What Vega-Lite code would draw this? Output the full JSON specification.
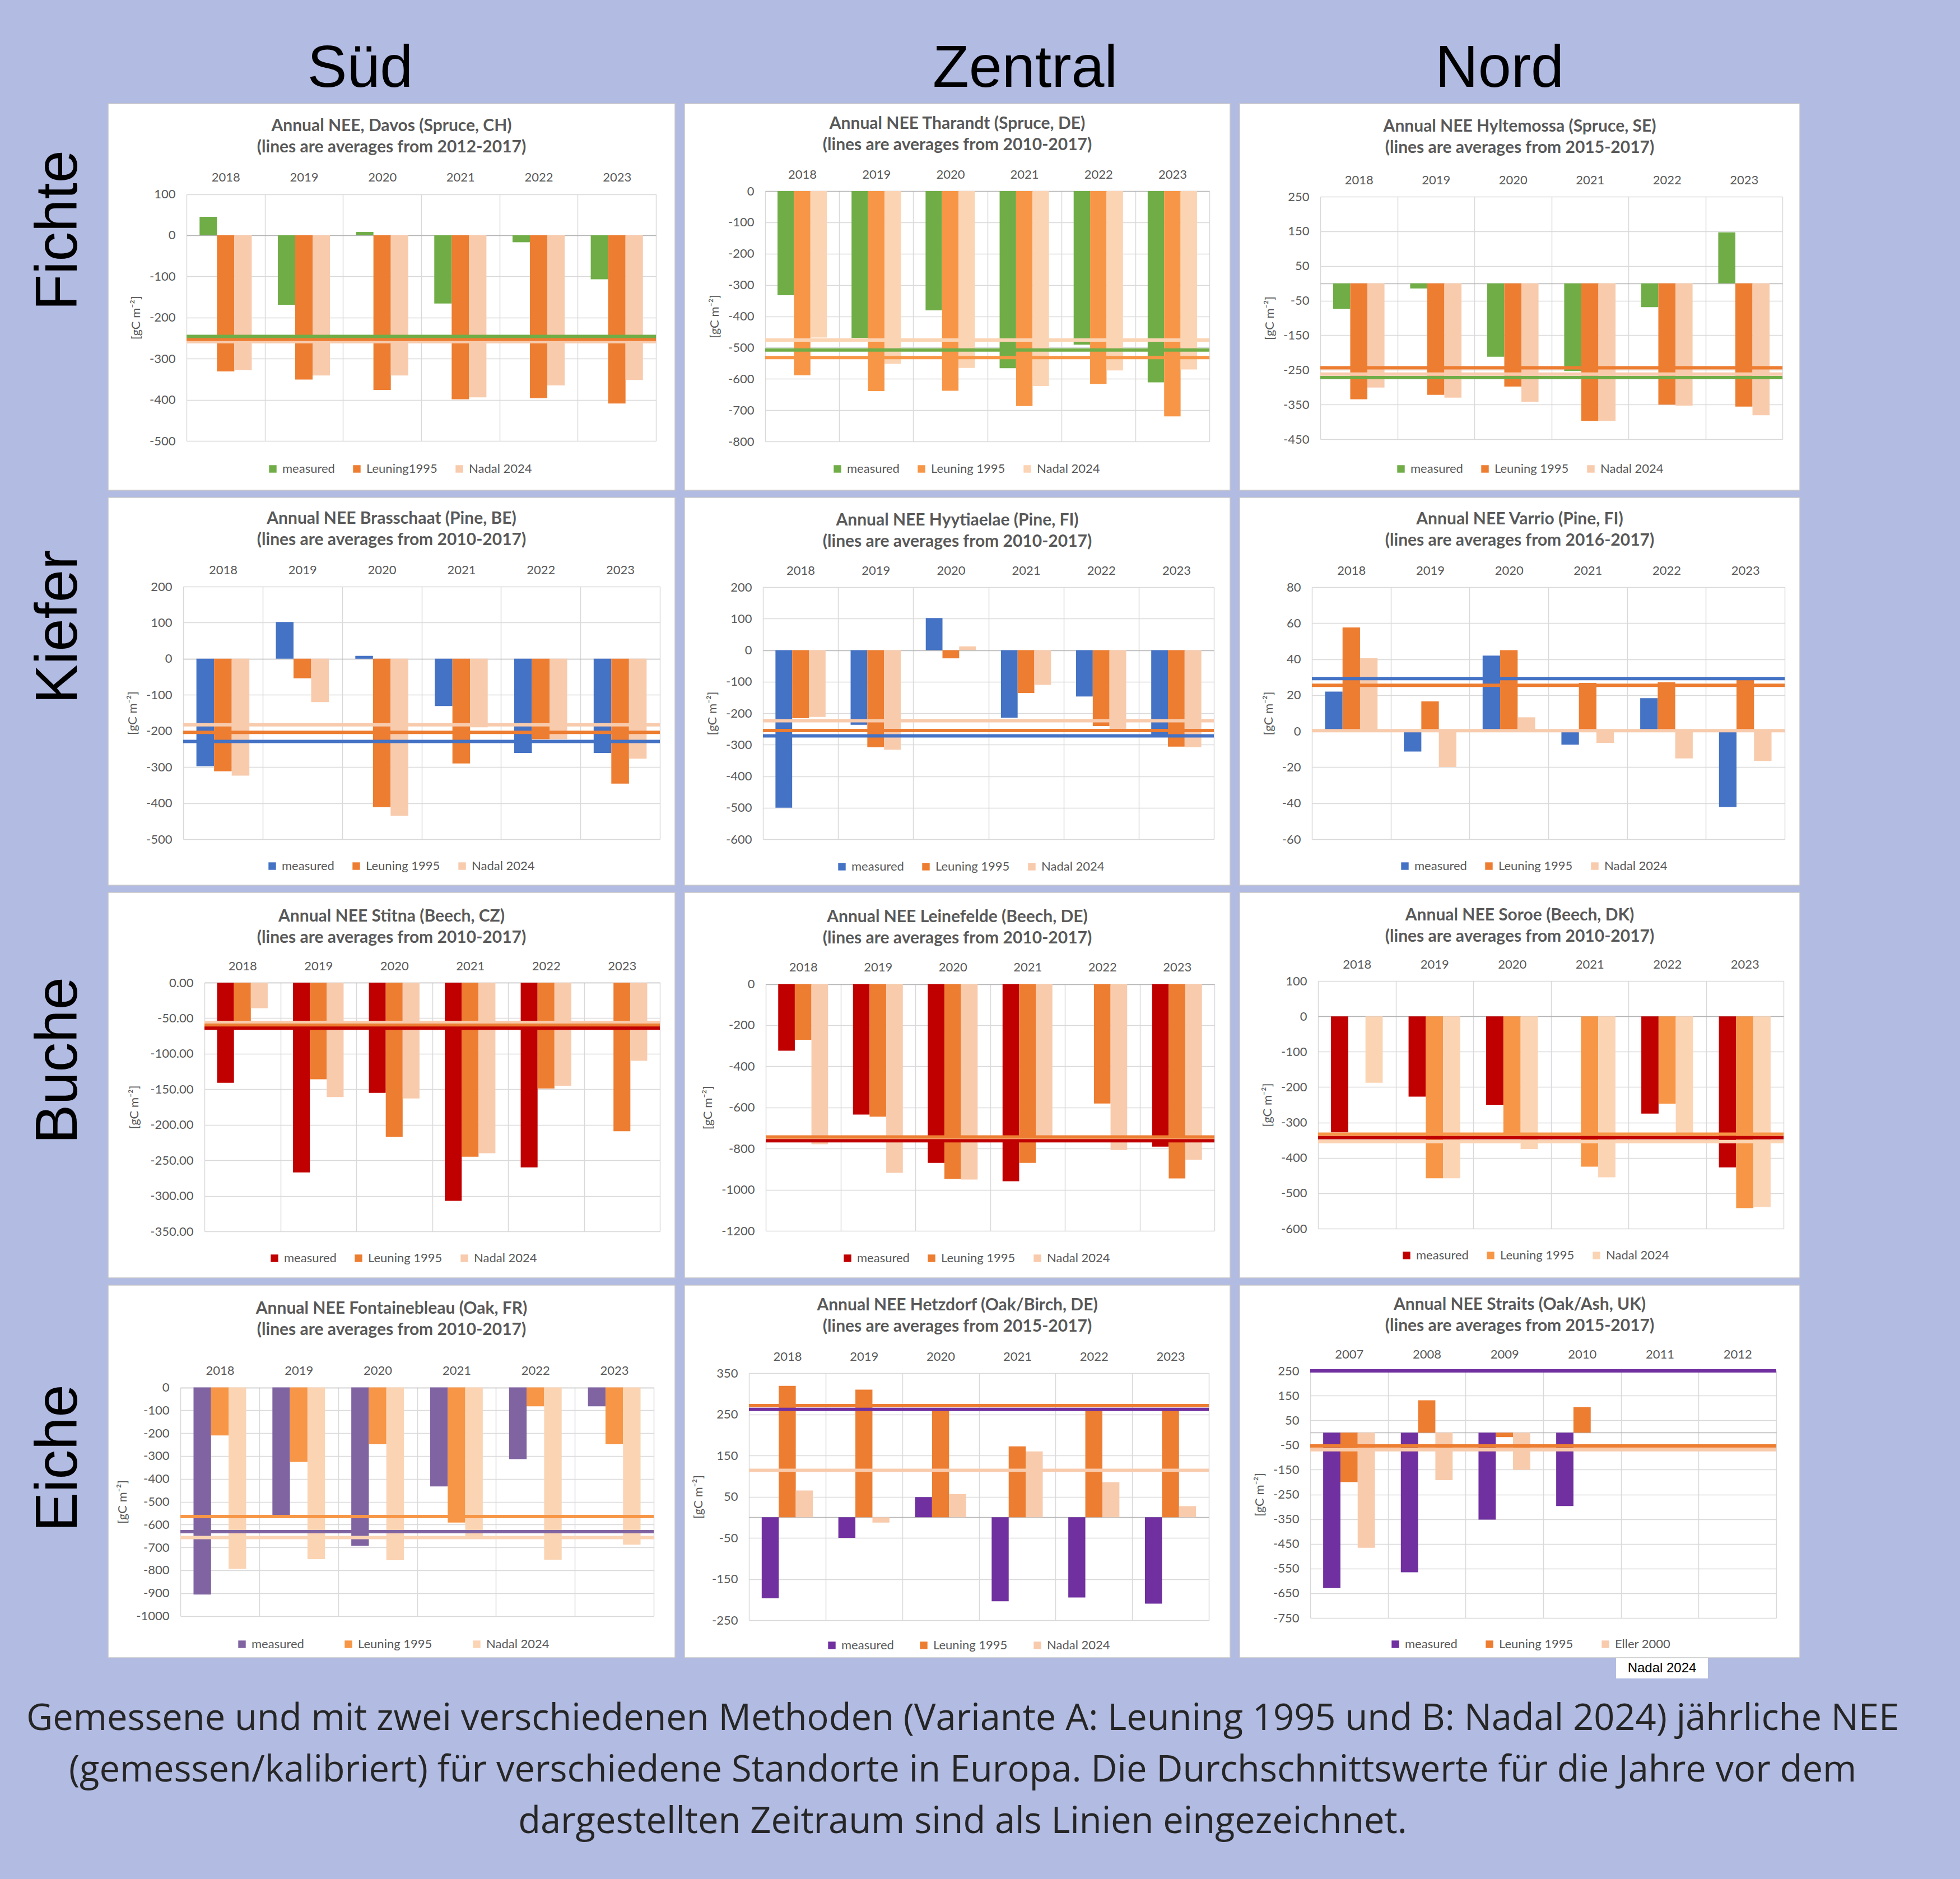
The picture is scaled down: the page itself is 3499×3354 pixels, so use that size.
{
"$schema": "https://vega.github.io/schema/vega-lite/v6.json",
"background": "#b2bbe2",
"padding": {"left": 46, "top": 70, "right": 111, "bottom": 78},
"title": {"text": ["Gemessene und mit zwei verschiedenen Methoden (Variante A: Leuning 1995 und B: Nadal 2024) jährliche NEE", "(gemessen/kalibriert) für verschiedene Standorte in Europa. Die Durchschnittswerte für die Jahre vor dem", "dargestellten Zeitraum sind als Linien eingezeichnet."], "orient": "bottom", "anchor": "middle", "font": "Open Sans", "fontSize": 65, "fontWeight": "normal", "color": "#262626", "lineHeight": 92, "offset": 41, "dx": 85},
"spacing": 11,
"resolve": {"scale": {"color": "independent", "xOffset": "independent"}, "legend": {"color": "independent"}},
"vconcat": [
{
"title": {"text": "Fichte", "orient": "left", "font": "Liberation Sans", "fontSize": 105, "fontWeight": "normal", "color": "#000000", "anchor": "middle", "offset": 33, "dx": 62, "lineHeight": 105},
"spacing": 15,
"resolve": {"scale": {"color": "independent", "xOffset": "independent"}, "legend": {"color": "independent"}},
"hconcat": [
{"title": {"text": "Süd", "font": "Liberation Sans", "fontSize": 106, "fontWeight": "normal", "color": "#000000", "anchor": "middle", "offset": 7, "dx": -56, "lineHeight": 106},
 "resolve": {"scale": {"color": "independent", "xOffset": "independent"}, "legend": {"color": "independent"}},
 "vconcat": [
{"width": 1012, "height": 690, "view": {"fill": "white", "stroke": "#c8c8c8", "strokeWidth": 1.5},
 "title": {"text": ["Annual NEE, Davos (Spruce, CH)", "(lines are averages from 2012-2017)"], "offset": -93},
 "layer": [
  {"data": {"values": [
   {"year":"2018","series":"measured","nee":45},{"year":"2018","series":"Leuning1995","nee":-331},{"year":"2018","series":"Nadal 2024","nee":-328},
   {"year":"2019","series":"measured","nee":-169},{"year":"2019","series":"Leuning1995","nee":-351},{"year":"2019","series":"Nadal 2024","nee":-341},
   {"year":"2020","series":"measured","nee":8},{"year":"2020","series":"Leuning1995","nee":-376},{"year":"2020","series":"Nadal 2024","nee":-341},
   {"year":"2021","series":"measured","nee":-166},{"year":"2021","series":"Leuning1995","nee":-399},{"year":"2021","series":"Nadal 2024","nee":-394},
   {"year":"2022","series":"measured","nee":-17},{"year":"2022","series":"Leuning1995","nee":-396},{"year":"2022","series":"Nadal 2024","nee":-365},
   {"year":"2023","series":"measured","nee":-107},{"year":"2023","series":"Leuning1995","nee":-409},{"year":"2023","series":"Nadal 2024","nee":-352}]},
   "mark": {"type": "bar"},
   "encoding": {
    "x": {"field": "year", "type": "nominal", "scale": {"domain": ["2018","2019","2020","2021","2022","2023"], "range": [140, 978], "paddingInner": 0, "paddingOuter": 0}, "axis": {"orient": "top", "offset": -161.5, "title": null, "labelAngle": 0, "labelPadding": 18, "tickBand": "extent", "grid": true}},
    "xOffset": {"field": "series", "type": "nominal", "scale": {"domain": ["measured","Leuning1995","Nadal 2024"], "paddingInner": 0, "paddingOuter": 0.75}},
    "y": {"field": "nee", "type": "quantitative", "scale": {"domain": [-500, 100], "range": [602, 161.5], "nice": false, "zero": false}, "axis": {"offset": -140, "values": [100,0,-100,-200,-300,-400,-500], "format": "d", "title": "[gC m⁻²]", "labelPadding": 20, "titlePadding": 12, "gridColor": {"condition": {"test": "datum.value === 0", "value": "#b5b5b5"}, "value": "#d9d9d9"}}},
    "color": {"field": "series", "type": "nominal", "scale": {"domain": ["measured","Leuning1995","Nadal 2024"], "range": ["#70ad47","#ed7d31","#f8cbad"]}, "legend": {"title": null, "orient": "none", "legendX": 283, "legendY": 641, "direction": "horizontal", "columnPadding": 28}}
   }},
  {"data": {"values": [{"series":"Nadal 2024","avg":-259},{"series":"Leuning1995","avg":-253},{"series":"measured","avg":-246}]},
   "mark": {"type": "rule", "strokeWidth": 6},
   "encoding": {"x": {"datum": "2018", "bandPosition": 0}, "x2": {"datum": "2023", "bandPosition": 1}, "y": {"field": "avg", "type": "quantitative"}, "color": {"field": "series", "type": "nominal", "legend": null}}}
 ]}
]},
{"title": {"text": "Zentral", "font": "Liberation Sans", "fontSize": 106, "fontWeight": "normal", "color": "#000000", "anchor": "middle", "offset": 7, "dx": 121, "lineHeight": 106},
 "resolve": {"scale": {"color": "independent", "xOffset": "independent"}, "legend": {"color": "independent"}},
 "vconcat": [
{"width": 974, "height": 690, "view": {"fill": "white", "stroke": "#c8c8c8", "strokeWidth": 1.5},
 "title": {"text": ["Annual NEE Tharandt (Spruce, DE)", "(lines are averages from 2010-2017)"], "offset": -89},
 "layer": [
  {"data": {"values": [
   {"year":"2018","series":"measured","nee":-333},{"year":"2018","series":"Leuning 1995","nee":-589},{"year":"2018","series":"Nadal 2024","nee":-468},
   {"year":"2019","series":"measured","nee":-469},{"year":"2019","series":"Leuning 1995","nee":-639},{"year":"2019","series":"Nadal 2024","nee":-552},
   {"year":"2020","series":"measured","nee":-381},{"year":"2020","series":"Leuning 1995","nee":-638},{"year":"2020","series":"Nadal 2024","nee":-565},
   {"year":"2021","series":"measured","nee":-566},{"year":"2021","series":"Leuning 1995","nee":-687},{"year":"2021","series":"Nadal 2024","nee":-623},
   {"year":"2022","series":"measured","nee":-491},{"year":"2022","series":"Leuning 1995","nee":-616},{"year":"2022","series":"Nadal 2024","nee":-573},
   {"year":"2023","series":"measured","nee":-611},{"year":"2023","series":"Leuning 1995","nee":-720},{"year":"2023","series":"Nadal 2024","nee":-570}]},
   "mark": {"type": "bar"},
   "encoding": {
    "x": {"field": "year", "type": "nominal", "scale": {"domain": ["2018","2019","2020","2021","2022","2023"], "range": [144, 937], "paddingInner": 0, "paddingOuter": 0}, "axis": {"orient": "top", "offset": -156, "title": null, "labelAngle": 0, "labelPadding": 18, "tickBand": "extent", "grid": true}},
    "xOffset": {"field": "series", "type": "nominal", "scale": {"domain": ["measured","Leuning 1995","Nadal 2024"], "paddingInner": 0, "paddingOuter": 0.75}},
    "y": {"field": "nee", "type": "quantitative", "scale": {"domain": [-800, 0], "range": [603, 156], "nice": false, "zero": false}, "axis": {"offset": -144, "values": [0,-100,-200,-300,-400,-500,-600,-700,-800], "format": "d", "title": "[gC m⁻²]", "labelPadding": 20, "titlePadding": 12, "gridColor": {"condition": {"test": "datum.value === 0", "value": "#b5b5b5"}, "value": "#d9d9d9"}}},
    "color": {"field": "series", "type": "nominal", "scale": {"domain": ["measured","Leuning 1995","Nadal 2024"], "range": ["#70ad47","#f79646","#fbd4b4"]}, "legend": {"title": null, "orient": "none", "legendX": 262, "legendY": 641, "direction": "horizontal", "columnPadding": 28}}
   }},
  {"data": {"values": [{"series":"Nadal 2024","avg":-476},{"series":"Leuning 1995","avg":-532},{"series":"measured","avg":-508}]},
   "mark": {"type": "rule", "strokeWidth": 6},
   "encoding": {"x": {"datum": "2018", "bandPosition": 0}, "x2": {"datum": "2023", "bandPosition": 1}, "y": {"field": "avg", "type": "quantitative"}, "color": {"field": "series", "type": "nominal", "legend": null}}}
 ]}
]},
{"title": {"text": "Nord", "font": "Liberation Sans", "fontSize": 106, "fontWeight": "normal", "color": "#000000", "anchor": "middle", "offset": 7, "dx": -36, "lineHeight": 106},
 "resolve": {"scale": {"color": "independent", "xOffset": "independent"}, "legend": {"color": "independent"}},
 "vconcat": [
{"width": 1000, "height": 690, "view": {"fill": "white", "stroke": "#c8c8c8", "strokeWidth": 1.5},
 "title": {"text": ["Annual NEE Hyltemossa (Spruce, SE)", "(lines are averages from 2015-2017)"], "offset": -94},
 "layer": [
  {"data": {"values": [
   {"year":"2018","series":"measured","nee":-74},{"year":"2018","series":"Leuning 1995","nee":-335},{"year":"2018","series":"Nadal 2024","nee":-301},
   {"year":"2019","series":"measured","nee":-15},{"year":"2019","series":"Leuning 1995","nee":-322},{"year":"2019","series":"Nadal 2024","nee":-330},
   {"year":"2020","series":"measured","nee":-212},{"year":"2020","series":"Leuning 1995","nee":-298},{"year":"2020","series":"Nadal 2024","nee":-342},
   {"year":"2021","series":"measured","nee":-253},{"year":"2021","series":"Leuning 1995","nee":-397},{"year":"2021","series":"Nadal 2024","nee":-397},
   {"year":"2022","series":"measured","nee":-69},{"year":"2022","series":"Leuning 1995","nee":-350},{"year":"2022","series":"Nadal 2024","nee":-353},
   {"year":"2023","series":"measured","nee":147},{"year":"2023","series":"Leuning 1995","nee":-356},{"year":"2023","series":"Nadal 2024","nee":-381}]},
   "mark": {"type": "bar"},
   "encoding": {
    "x": {"field": "year", "type": "nominal", "scale": {"domain": ["2018","2019","2020","2021","2022","2023"], "range": [144, 969], "paddingInner": 0, "paddingOuter": 0}, "axis": {"orient": "top", "offset": -166, "title": null, "labelAngle": 0, "labelPadding": 18, "tickBand": "extent", "grid": true}},
    "xOffset": {"field": "series", "type": "nominal", "scale": {"domain": ["measured","Leuning 1995","Nadal 2024"], "paddingInner": 0, "paddingOuter": 0.75}},
    "y": {"field": "nee", "type": "quantitative", "scale": {"domain": [-450, 250], "range": [599, 166], "nice": false, "zero": false}, "axis": {"offset": -144, "values": [250,150,50,0,-50,-150,-250,-350,-450], "format": "d", "labelExpr": "datum.value === 0 ? '' : datum.label", "title": "[gC m⁻²]", "labelPadding": 20, "titlePadding": 12, "gridColor": {"condition": {"test": "datum.value === 0", "value": "#b5b5b5"}, "value": "#d9d9d9"}}},
    "color": {"field": "series", "type": "nominal", "scale": {"domain": ["measured","Leuning 1995","Nadal 2024"], "range": ["#70ad47","#ed7d31","#f8cbad"]}, "legend": {"title": null, "orient": "none", "legendX": 277, "legendY": 641, "direction": "horizontal", "columnPadding": 28}}
   }},
  {"data": {"values": [{"series":"Nadal 2024","avg":-262},{"series":"Leuning 1995","avg":-244},{"series":"measured","avg":-272}]},
   "mark": {"type": "rule", "strokeWidth": 6},
   "encoding": {"x": {"datum": "2018", "bandPosition": 0}, "x2": {"datum": "2023", "bandPosition": 1}, "y": {"field": "avg", "type": "quantitative"}, "color": {"field": "series", "type": "nominal", "legend": null}}}
 ]}
]}
]},
{
"title": {"text": "Kiefer", "orient": "left", "font": "Liberation Sans", "fontSize": 105, "fontWeight": "normal", "color": "#000000", "anchor": "middle", "offset": 33, "dx": 115, "lineHeight": 105},
"spacing": 15,
"resolve": {"scale": {"color": "independent", "xOffset": "independent"}, "legend": {"color": "independent"}},
"hconcat": [
{"width": 1012, "height": 692, "view": {"fill": "white", "stroke": "#c8c8c8", "strokeWidth": 1.5},
 "title": {"text": ["Annual NEE Brasschaat (Pine, BE)", "(lines are averages from 2010-2017)"], "offset": -91},
 "layer": [
  {"data": {"values": [
   {"year":"2018","series":"measured","nee":-298},{"year":"2018","series":"Leuning 1995","nee":-312},{"year":"2018","series":"Nadal 2024","nee":-324},
   {"year":"2019","series":"measured","nee":102},{"year":"2019","series":"Leuning 1995","nee":-54},{"year":"2019","series":"Nadal 2024","nee":-120},
   {"year":"2020","series":"measured","nee":8},{"year":"2020","series":"Leuning 1995","nee":-411},{"year":"2020","series":"Nadal 2024","nee":-435},
   {"year":"2021","series":"measured","nee":-131},{"year":"2021","series":"Leuning 1995","nee":-290},{"year":"2021","series":"Nadal 2024","nee":-190},
   {"year":"2022","series":"measured","nee":-261},{"year":"2022","series":"Leuning 1995","nee":-223},{"year":"2022","series":"Nadal 2024","nee":-223},
   {"year":"2023","series":"measured","nee":-261},{"year":"2023","series":"Leuning 1995","nee":-346},{"year":"2023","series":"Nadal 2024","nee":-277}]},
   "mark": {"type": "bar"},
   "encoding": {
    "x": {"field": "year", "type": "nominal", "scale": {"domain": ["2018","2019","2020","2021","2022","2023"], "range": [134, 985], "paddingInner": 0, "paddingOuter": 0}, "axis": {"orient": "top", "offset": -159, "title": null, "labelAngle": 0, "labelPadding": 18, "tickBand": "extent", "grid": true}},
    "xOffset": {"field": "series", "type": "nominal", "scale": {"domain": ["measured","Leuning 1995","Nadal 2024"], "paddingInner": 0, "paddingOuter": 0.75}},
    "y": {"field": "nee", "type": "quantitative", "scale": {"domain": [-500, 200], "range": [610, 159], "nice": false, "zero": false}, "axis": {"offset": -134, "values": [200,100,0,-100,-200,-300,-400,-500], "format": "d", "title": "[gC m⁻²]", "labelPadding": 20, "titlePadding": 12, "gridColor": {"condition": {"test": "datum.value === 0", "value": "#b5b5b5"}, "value": "#d9d9d9"}}},
    "color": {"field": "series", "type": "nominal", "scale": {"domain": ["measured","Leuning 1995","Nadal 2024"], "range": ["#4472c4","#ed7d31","#f8cbad"]}, "legend": {"title": null, "orient": "none", "legendX": 282, "legendY": 647, "direction": "horizontal", "columnPadding": 28}}
   }},
  {"data": {"values": [{"series":"Nadal 2024","avg":-183},{"series":"Leuning 1995","avg":-204},{"series":"measured","avg":-229}]},
   "mark": {"type": "rule", "strokeWidth": 6},
   "encoding": {"x": {"datum": "2018", "bandPosition": 0}, "x2": {"datum": "2023", "bandPosition": 1}, "y": {"field": "avg", "type": "quantitative"}, "color": {"field": "series", "type": "nominal", "legend": null}}}
 ]},
{"width": 974, "height": 692, "view": {"fill": "white", "stroke": "#c8c8c8", "strokeWidth": 1.5},
 "title": {"text": ["Annual NEE Hyytiaelae (Pine, FI)", "(lines are averages from 2010-2017)"], "offset": -94},
 "layer": [
  {"data": {"values": [
   {"year":"2018","series":"measured","nee":-500},{"year":"2018","series":"Leuning 1995","nee":-216},{"year":"2018","series":"Nadal 2024","nee":-212},
   {"year":"2019","series":"measured","nee":-237},{"year":"2019","series":"Leuning 1995","nee":-308},{"year":"2019","series":"Nadal 2024","nee":-316},
   {"year":"2020","series":"measured","nee":102},{"year":"2020","series":"Leuning 1995","nee":-26},{"year":"2020","series":"Nadal 2024","nee":12},
   {"year":"2021","series":"measured","nee":-214},{"year":"2021","series":"Leuning 1995","nee":-136},{"year":"2021","series":"Nadal 2024","nee":-110},
   {"year":"2022","series":"measured","nee":-147},{"year":"2022","series":"Leuning 1995","nee":-241},{"year":"2022","series":"Nadal 2024","nee":-259},
   {"year":"2023","series":"measured","nee":-275},{"year":"2023","series":"Leuning 1995","nee":-306},{"year":"2023","series":"Nadal 2024","nee":-308}]},
   "mark": {"type": "bar"},
   "encoding": {
    "x": {"field": "year", "type": "nominal", "scale": {"domain": ["2018","2019","2020","2021","2022","2023"], "range": [140, 945], "paddingInner": 0, "paddingOuter": 0}, "axis": {"orient": "top", "offset": -160, "title": null, "labelAngle": 0, "labelPadding": 18, "tickBand": "extent", "grid": true}},
    "xOffset": {"field": "series", "type": "nominal", "scale": {"domain": ["measured","Leuning 1995","Nadal 2024"], "paddingInner": 0, "paddingOuter": 0.75}},
    "y": {"field": "nee", "type": "quantitative", "scale": {"domain": [-600, 200], "range": [610, 160], "nice": false, "zero": false}, "axis": {"offset": -140, "values": [200,100,0,-100,-200,-300,-400,-500,-600], "format": "d", "title": "[gC m⁻²]", "labelPadding": 20, "titlePadding": 12, "gridColor": {"condition": {"test": "datum.value === 0", "value": "#b5b5b5"}, "value": "#d9d9d9"}}},
    "color": {"field": "series", "type": "nominal", "scale": {"domain": ["measured","Leuning 1995","Nadal 2024"], "range": ["#4472c4","#ed7d31","#f8cbad"]}, "legend": {"title": null, "orient": "none", "legendX": 270, "legendY": 648, "direction": "horizontal", "columnPadding": 28}}
   }},
  {"data": {"values": [{"series":"Nadal 2024","avg":-224},{"series":"Leuning 1995","avg":-255},{"series":"measured","avg":-272}]},
   "mark": {"type": "rule", "strokeWidth": 6},
   "encoding": {"x": {"datum": "2018", "bandPosition": 0}, "x2": {"datum": "2023", "bandPosition": 1}, "y": {"field": "avg", "type": "quantitative"}, "color": {"field": "series", "type": "nominal", "legend": null}}}
 ]},
{"width": 1000, "height": 692, "view": {"fill": "white", "stroke": "#c8c8c8", "strokeWidth": 1.5},
 "title": {"text": ["Annual NEE Varrio (Pine, FI)", "(lines are averages from 2016-2017)"], "offset": -92},
 "layer": [
  {"data": {"values": [
   {"year":"2018","series":"measured","nee":22},{"year":"2018","series":"Leuning 1995","nee":57.6},{"year":"2018","series":"Nadal 2024","nee":40.5},
   {"year":"2019","series":"measured","nee":-11.3},{"year":"2019","series":"Leuning 1995","nee":16.5},{"year":"2019","series":"Nadal 2024","nee":-19.9},
   {"year":"2020","series":"measured","nee":42},{"year":"2020","series":"Leuning 1995","nee":45},{"year":"2020","series":"Nadal 2024","nee":7.7},
   {"year":"2021","series":"measured","nee":-7.5},{"year":"2021","series":"Leuning 1995","nee":26.8},{"year":"2021","series":"Nadal 2024","nee":-6.5},
   {"year":"2022","series":"measured","nee":18.3},{"year":"2022","series":"Leuning 1995","nee":27.2},{"year":"2022","series":"Nadal 2024","nee":-15.1},
   {"year":"2023","series":"measured","nee":-42.1},{"year":"2023","series":"Leuning 1995","nee":29.2},{"year":"2023","series":"Nadal 2024","nee":-16.5}]},
   "mark": {"type": "bar"},
   "encoding": {
    "x": {"field": "year", "type": "nominal", "scale": {"domain": ["2018","2019","2020","2021","2022","2023"], "range": [129, 973], "paddingInner": 0, "paddingOuter": 0}, "axis": {"orient": "top", "offset": -160, "title": null, "labelAngle": 0, "labelPadding": 18, "tickBand": "extent", "grid": true}},
    "xOffset": {"field": "series", "type": "nominal", "scale": {"domain": ["measured","Leuning 1995","Nadal 2024"], "paddingInner": 0, "paddingOuter": 0.75}},
    "y": {"field": "nee", "type": "quantitative", "scale": {"domain": [-60, 80], "range": [610, 160], "nice": false, "zero": false}, "axis": {"offset": -129, "values": [80,60,40,20,0,-20,-40,-60], "format": "d", "title": "[gC m⁻²]", "labelPadding": 20, "titlePadding": 12, "gridColor": {"condition": {"test": "datum.value === 0", "value": "#b5b5b5"}, "value": "#d9d9d9"}}},
    "color": {"field": "series", "type": "nominal", "scale": {"domain": ["measured","Leuning 1995","Nadal 2024"], "range": ["#4472c4","#ed7d31","#f8cbad"]}, "legend": {"title": null, "orient": "none", "legendX": 284, "legendY": 647, "direction": "horizontal", "columnPadding": 28}}
   }},
  {"data": {"values": [{"series":"Nadal 2024","avg":0.3},{"series":"Leuning 1995","avg":25.5},{"series":"measured","avg":29.2}]},
   "mark": {"type": "rule", "strokeWidth": 6},
   "encoding": {"x": {"datum": "2018", "bandPosition": 0}, "x2": {"datum": "2023", "bandPosition": 1}, "y": {"field": "avg", "type": "quantitative"}, "color": {"field": "series", "type": "nominal", "legend": null}}}
 ]}
]},
{
"title": {"text": "Buche", "orient": "left", "font": "Liberation Sans", "fontSize": 105, "fontWeight": "normal", "color": "#000000", "anchor": "middle", "offset": 33, "dx": 44, "lineHeight": 105},
"spacing": 15,
"resolve": {"scale": {"color": "independent", "xOffset": "independent"}, "legend": {"color": "independent"}},
"hconcat": [
{"width": 1012, "height": 688, "view": {"fill": "white", "stroke": "#c8c8c8", "strokeWidth": 1.5},
 "title": {"text": ["Annual NEE Stitna (Beech, CZ)", "(lines are averages from 2010-2017)"], "offset": -96},
 "layer": [
  {"data": {"values": [
   {"year":"2018","series":"measured","nee":-141},{"year":"2018","series":"Leuning 1995","nee":-55},{"year":"2018","series":"Nadal 2024","nee":-36},
   {"year":"2019","series":"measured","nee":-267},{"year":"2019","series":"Leuning 1995","nee":-136},{"year":"2019","series":"Nadal 2024","nee":-161},
   {"year":"2020","series":"measured","nee":-155},{"year":"2020","series":"Leuning 1995","nee":-217},{"year":"2020","series":"Nadal 2024","nee":-163},
   {"year":"2021","series":"measured","nee":-307},{"year":"2021","series":"Leuning 1995","nee":-245},{"year":"2021","series":"Nadal 2024","nee":-240},
   {"year":"2022","series":"measured","nee":-260},{"year":"2022","series":"Leuning 1995","nee":-149},{"year":"2022","series":"Nadal 2024","nee":-145},
   {"year":"2023","series":"Leuning 1995","nee":-209},{"year":"2023","series":"Nadal 2024","nee":-110}]},
   "mark": {"type": "bar"},
   "encoding": {
    "x": {"field": "year", "type": "nominal", "scale": {"domain": ["2018","2019","2020","2021","2022","2023"], "range": [172, 985], "paddingInner": 0, "paddingOuter": 0}, "axis": {"orient": "top", "offset": -161, "title": null, "labelAngle": 0, "labelPadding": 18, "tickBand": "extent", "grid": true}},
    "xOffset": {"field": "series", "type": "nominal", "scale": {"domain": ["measured","Leuning 1995","Nadal 2024"], "paddingInner": 0, "paddingOuter": 0.75}},
    "y": {"field": "nee", "type": "quantitative", "scale": {"domain": [-350, 0], "range": [605, 161], "nice": false, "zero": false}, "axis": {"offset": -172, "values": [0,-50,-100,-150,-200,-250,-300,-350], "format": ".2f", "title": "[gC m⁻²]", "labelPadding": 20, "titlePadding": 16, "gridColor": {"condition": {"test": "datum.value === 0", "value": "#b5b5b5"}, "value": "#d9d9d9"}}},
    "color": {"field": "series", "type": "nominal", "scale": {"domain": ["measured","Leuning 1995","Nadal 2024"], "range": ["#c00000","#ed7d31","#f8cbad"]}, "legend": {"title": null, "orient": "none", "legendX": 286, "legendY": 642, "direction": "horizontal", "columnPadding": 28}}
   }},
  {"data": {"values": [{"series":"Nadal 2024","avg":-56},{"series":"Leuning 1995","avg":-60},{"series":"measured","avg":-64}]},
   "mark": {"type": "rule", "strokeWidth": 6},
   "encoding": {"x": {"datum": "2018", "bandPosition": 0}, "x2": {"datum": "2023", "bandPosition": 1}, "y": {"field": "avg", "type": "quantitative"}, "color": {"field": "series", "type": "nominal", "legend": null}}}
 ]},
{"width": 974, "height": 688, "view": {"fill": "white", "stroke": "#c8c8c8", "strokeWidth": 1.5},
 "title": {"text": ["Annual NEE Leinefelde (Beech, DE)", "(lines are averages from 2010-2017)"], "offset": -97},
 "layer": [
  {"data": {"values": [
   {"year":"2018","series":"measured","nee":-324},{"year":"2018","series":"Leuning 1995","nee":-271},{"year":"2018","series":"Nadal 2024","nee":-779},
   {"year":"2019","series":"measured","nee":-635},{"year":"2019","series":"Leuning 1995","nee":-645},{"year":"2019","series":"Nadal 2024","nee":-918},
   {"year":"2020","series":"measured","nee":-870},{"year":"2020","series":"Leuning 1995","nee":-947},{"year":"2020","series":"Nadal 2024","nee":-951},
   {"year":"2021","series":"measured","nee":-959},{"year":"2021","series":"Leuning 1995","nee":-870},{"year":"2021","series":"Nadal 2024","nee":-740},
   {"year":"2022","series":"Leuning 1995","nee":-581},{"year":"2022","series":"Nadal 2024","nee":-807},
   {"year":"2023","series":"measured","nee":-791},{"year":"2023","series":"Leuning 1995","nee":-945},{"year":"2023","series":"Nadal 2024","nee":-855}]},
   "mark": {"type": "bar"},
   "encoding": {
    "x": {"field": "year", "type": "nominal", "scale": {"domain": ["2018","2019","2020","2021","2022","2023"], "range": [145, 946], "paddingInner": 0, "paddingOuter": 0}, "axis": {"orient": "top", "offset": -163.5, "title": null, "labelAngle": 0, "labelPadding": 18, "tickBand": "extent", "grid": true}},
    "xOffset": {"field": "series", "type": "nominal", "scale": {"domain": ["measured","Leuning 1995","Nadal 2024"], "paddingInner": 0, "paddingOuter": 0.75}},
    "y": {"field": "nee", "type": "quantitative", "scale": {"domain": [-1200, 0], "range": [604, 163.5], "nice": false, "zero": false}, "axis": {"offset": -145, "values": [0,-200,-400,-600,-800,-1000,-1200], "format": "d", "title": "[gC m⁻²]", "labelPadding": 20, "titlePadding": 12, "gridColor": {"condition": {"test": "datum.value === 0", "value": "#b5b5b5"}, "value": "#d9d9d9"}}},
    "color": {"field": "series", "type": "nominal", "scale": {"domain": ["measured","Leuning 1995","Nadal 2024"], "range": ["#c00000","#ed7d31","#f8cbad"]}, "legend": {"title": null, "orient": "none", "legendX": 280, "legendY": 642, "direction": "horizontal", "columnPadding": 28}}
   }},
  {"data": {"values": [{"series":"Nadal 2024","avg":-753},{"series":"measured","avg":-762},{"series":"Leuning 1995","avg":-744}]},
   "mark": {"type": "rule", "strokeWidth": 6},
   "encoding": {"x": {"datum": "2018", "bandPosition": 0}, "x2": {"datum": "2023", "bandPosition": 1}, "y": {"field": "avg", "type": "quantitative"}, "color": {"field": "series", "type": "nominal", "legend": null}}}
 ]},
{"width": 1000, "height": 688, "view": {"fill": "white", "stroke": "#c8c8c8", "strokeWidth": 1.5},
 "title": {"text": ["Annual NEE Soroe (Beech, DK)", "(lines are averages from 2010-2017)"], "offset": -94},
 "layer": [
  {"data": {"values": [
   {"year":"2018","series":"measured","nee":-328},{"year":"2018","series":"Nadal 2024","nee":-188},
   {"year":"2019","series":"measured","nee":-227},{"year":"2019","series":"Leuning 1995","nee":-458},{"year":"2019","series":"Nadal 2024","nee":-458},
   {"year":"2020","series":"measured","nee":-250},{"year":"2020","series":"Leuning 1995","nee":-333},{"year":"2020","series":"Nadal 2024","nee":-375},
   {"year":"2021","series":"Leuning 1995","nee":-425},{"year":"2021","series":"Nadal 2024","nee":-455},
   {"year":"2022","series":"measured","nee":-275},{"year":"2022","series":"Leuning 1995","nee":-247},{"year":"2022","series":"Nadal 2024","nee":-333},
   {"year":"2023","series":"measured","nee":-427},{"year":"2023","series":"Leuning 1995","nee":-542},{"year":"2023","series":"Nadal 2024","nee":-539}]},
   "mark": {"type": "bar"},
   "encoding": {
    "x": {"field": "year", "type": "nominal", "scale": {"domain": ["2018","2019","2020","2021","2022","2023"], "range": [140, 971], "paddingInner": 0, "paddingOuter": 0}, "axis": {"orient": "top", "offset": -158, "title": null, "labelAngle": 0, "labelPadding": 18, "tickBand": "extent", "grid": true}},
    "xOffset": {"field": "series", "type": "nominal", "scale": {"domain": ["measured","Leuning 1995","Nadal 2024"], "paddingInner": 0, "paddingOuter": 0.75}},
    "y": {"field": "nee", "type": "quantitative", "scale": {"domain": [-600, 100], "range": [600, 158], "nice": false, "zero": false}, "axis": {"offset": -140, "values": [100,0,-100,-200,-300,-400,-500,-600], "format": "d", "title": "[gC m⁻²]", "labelPadding": 20, "titlePadding": 12, "gridColor": {"condition": {"test": "datum.value === 0", "value": "#b5b5b5"}, "value": "#d9d9d9"}}},
    "color": {"field": "series", "type": "nominal", "scale": {"domain": ["measured","Leuning 1995","Nadal 2024"], "range": ["#c00000","#f79646","#fbd4b4"]}, "legend": {"title": null, "orient": "none", "legendX": 287, "legendY": 637, "direction": "horizontal", "columnPadding": 28}}
   }},
  {"data": {"values": [{"series":"Nadal 2024","avg":-354},{"series":"Leuning 1995","avg":-333},{"series":"measured","avg":-343}]},
   "mark": {"type": "rule", "strokeWidth": 6},
   "encoding": {"x": {"datum": "2018", "bandPosition": 0}, "x2": {"datum": "2023", "bandPosition": 1}, "y": {"field": "avg", "type": "quantitative"}, "color": {"field": "series", "type": "nominal", "legend": null}}}
 ]}
]},
{
"title": {"text": "Eiche", "orient": "left", "font": "Liberation Sans", "fontSize": 105, "fontWeight": "normal", "color": "#000000", "anchor": "middle", "offset": 33, "dx": 42, "lineHeight": 105},
"spacing": 15,
"resolve": {"scale": {"color": "independent", "xOffset": "independent"}, "legend": {"color": "independent"}},
"hconcat": [
{"width": 1012, "height": 665, "view": {"fill": "white", "stroke": "#c8c8c8", "strokeWidth": 1.5},
 "title": {"text": ["Annual NEE Fontainebleau (Oak, FR)", "(lines are averages from 2010-2017)"], "offset": -95},
 "layer": [
  {"data": {"values": [
   {"year":"2018","series":"measured","nee":-906},{"year":"2018","series":"Leuning 1995","nee":-210},{"year":"2018","series":"Nadal 2024","nee":-794},
   {"year":"2019","series":"measured","nee":-560},{"year":"2019","series":"Leuning 1995","nee":-326},{"year":"2019","series":"Nadal 2024","nee":-751},
   {"year":"2020","series":"measured","nee":-693},{"year":"2020","series":"Leuning 1995","nee":-249},{"year":"2020","series":"Nadal 2024","nee":-756},
   {"year":"2021","series":"measured","nee":-433},{"year":"2021","series":"Leuning 1995","nee":-591},{"year":"2021","series":"Nadal 2024","nee":-652},
   {"year":"2022","series":"measured","nee":-314},{"year":"2022","series":"Leuning 1995","nee":-83},{"year":"2022","series":"Nadal 2024","nee":-754},
   {"year":"2023","series":"measured","nee":-83},{"year":"2023","series":"Leuning 1995","nee":-249},{"year":"2023","series":"Nadal 2024","nee":-688}]},
   "mark": {"type": "bar"},
   "encoding": {
    "x": {"field": "year", "type": "nominal", "scale": {"domain": ["2018","2019","2020","2021","2022","2023"], "range": [129, 974], "paddingInner": 0, "paddingOuter": 0}, "axis": {"orient": "top", "offset": -182.5, "title": null, "labelAngle": 0, "labelPadding": 18, "tickBand": "extent", "grid": true}},
    "xOffset": {"field": "series", "type": "nominal", "scale": {"domain": ["measured","Leuning 1995","Nadal 2024"], "paddingInner": 0, "paddingOuter": 0.75}},
    "y": {"field": "nee", "type": "quantitative", "scale": {"domain": [-1000, 0], "range": [590.5, 182.5], "nice": false, "zero": false}, "axis": {"offset": -129, "values": [0,-100,-200,-300,-400,-500,-600,-700,-800,-900,-1000], "format": "d", "title": "[gC m⁻²]", "labelPadding": 20, "titlePadding": 12, "gridColor": {"condition": {"test": "datum.value === 0", "value": "#b5b5b5"}, "value": "#d9d9d9"}}},
    "color": {"field": "series", "type": "nominal", "scale": {"domain": ["measured","Leuning 1995","Nadal 2024"], "range": ["#8064a2","#f79646","#fbd4b4"]}, "legend": {"title": null, "orient": "none", "legendX": 228, "legendY": 630, "direction": "horizontal", "columnPadding": 68}}
   }},
  {"data": {"values": [{"series":"Nadal 2024","avg":-657},{"series":"Leuning 1995","avg":-565},{"series":"measured","avg":-631}]},
   "mark": {"type": "rule", "strokeWidth": 6},
   "encoding": {"x": {"datum": "2018", "bandPosition": 0}, "x2": {"datum": "2023", "bandPosition": 1}, "y": {"field": "avg", "type": "quantitative"}, "color": {"field": "series", "type": "nominal", "legend": null}}}
 ]},
{"width": 974, "height": 665, "view": {"fill": "white", "stroke": "#c8c8c8", "strokeWidth": 1.5},
 "title": {"text": ["Annual NEE Hetzdorf (Oak/Birch, DE)", "(lines are averages from 2015-2017)"], "offset": -89},
 "layer": [
  {"data": {"values": [
   {"year":"2018","series":"measured","nee":-197},{"year":"2018","series":"Leuning 1995","nee":319},{"year":"2018","series":"Nadal 2024","nee":65},
   {"year":"2019","series":"measured","nee":-50},{"year":"2019","series":"Leuning 1995","nee":310},{"year":"2019","series":"Nadal 2024","nee":-13},
   {"year":"2020","series":"measured","nee":49},{"year":"2020","series":"Leuning 1995","nee":261},{"year":"2020","series":"Nadal 2024","nee":56},
   {"year":"2021","series":"measured","nee":-204},{"year":"2021","series":"Leuning 1995","nee":172},{"year":"2021","series":"Nadal 2024","nee":160},
   {"year":"2022","series":"measured","nee":-195},{"year":"2022","series":"Leuning 1995","nee":261},{"year":"2022","series":"Nadal 2024","nee":85},
   {"year":"2023","series":"measured","nee":-210},{"year":"2023","series":"Leuning 1995","nee":259},{"year":"2023","series":"Nadal 2024","nee":27}]},
   "mark": {"type": "bar"},
   "encoding": {
    "x": {"field": "year", "type": "nominal", "scale": {"domain": ["2018","2019","2020","2021","2022","2023"], "range": [115, 936], "paddingInner": 0, "paddingOuter": 0}, "axis": {"orient": "top", "offset": -157, "title": null, "labelAngle": 0, "labelPadding": 18, "tickBand": "extent", "grid": true}},
    "xOffset": {"field": "series", "type": "nominal", "scale": {"domain": ["measured","Leuning 1995","Nadal 2024"], "paddingInner": 0, "paddingOuter": 0.75}},
    "y": {"field": "nee", "type": "quantitative", "scale": {"domain": [-250, 350], "range": [598, 157], "nice": false, "zero": false}, "axis": {"offset": -115, "values": [350,250,150,50,0,-50,-150,-250], "format": "d", "labelExpr": "datum.value === 0 ? '' : datum.label", "title": "[gC m⁻²]", "labelPadding": 20, "titlePadding": 12, "gridColor": {"condition": {"test": "datum.value === 0", "value": "#b5b5b5"}, "value": "#d9d9d9"}}},
    "color": {"field": "series", "type": "nominal", "scale": {"domain": ["measured","Leuning 1995","Nadal 2024"], "range": ["#7030a0","#ed7d31","#f8cbad"]}, "legend": {"title": null, "orient": "none", "legendX": 252, "legendY": 632, "direction": "horizontal", "columnPadding": 42}}
   }},
  {"data": {"values": [{"series":"Nadal 2024","avg":114},{"series":"Leuning 1995","avg":271},{"series":"measured","avg":262}]},
   "mark": {"type": "rule", "strokeWidth": 6},
   "encoding": {"x": {"datum": "2018", "bandPosition": 0}, "x2": {"datum": "2023", "bandPosition": 1}, "y": {"field": "avg", "type": "quantitative"}, "color": {"field": "series", "type": "nominal", "legend": null}}}
 ]},
{"spacing": 0,
 "resolve": {"scale": {"color": "independent", "xOffset": "independent"}, "legend": {"color": "independent"}},
 "vconcat": [
{"width": 1000, "height": 665, "view": {"fill": "white", "stroke": "#c8c8c8", "strokeWidth": 1.5},
 "title": {"text": ["Annual NEE Straits (Oak/Ash, UK)", "(lines are averages from 2015-2017)"], "offset": -88},
 "layer": [
  {"data": {"values": [
   {"year":"2007","series":"measured","nee":-629},{"year":"2007","series":"Leuning 1995","nee":-200},{"year":"2007","series":"Eller 2000","nee":-466},
   {"year":"2008","series":"measured","nee":-565},{"year":"2008","series":"Leuning 1995","nee":131},{"year":"2008","series":"Eller 2000","nee":-192},
   {"year":"2009","series":"measured","nee":-352},{"year":"2009","series":"Leuning 1995","nee":-18},{"year":"2009","series":"Eller 2000","nee":-150},
   {"year":"2010","series":"measured","nee":-297},{"year":"2010","series":"Leuning 1995","nee":103}]},
   "mark": {"type": "bar"},
   "encoding": {
    "x": {"field": "year", "type": "nominal", "scale": {"domain": ["2007","2008","2009","2010","2011","2012"], "range": [126, 958], "paddingInner": 0, "paddingOuter": 0}, "axis": {"orient": "top", "offset": -153, "title": null, "labelAngle": 0, "labelPadding": 18, "tickBand": "extent", "grid": true}},
    "xOffset": {"field": "series", "type": "nominal", "scale": {"domain": ["measured","Leuning 1995","Eller 2000"], "paddingInner": 0, "paddingOuter": 0.75}},
    "y": {"field": "nee", "type": "quantitative", "scale": {"domain": [-750, 250], "range": [594, 153], "nice": false, "zero": false}, "axis": {"offset": -126, "values": [250,150,50,0,-50,-150,-250,-350,-450,-550,-650,-750], "format": "d", "labelExpr": "datum.value === 0 ? '' : datum.label", "title": "[gC m⁻²]", "labelPadding": 20, "titlePadding": 12, "gridColor": {"condition": {"test": "datum.value === 0", "value": "#b5b5b5"}, "value": "#d9d9d9"}}},
    "color": {"field": "series", "type": "nominal", "scale": {"domain": ["measured","Leuning 1995","Eller 2000"], "range": ["#7030a0","#ed7d31","#f8cbad"]}, "legend": {"title": null, "orient": "none", "legendX": 267, "legendY": 630, "direction": "horizontal", "columnPadding": 46}}
   }},
  {"data": {"values": [{"series":"Eller 2000","avg":-69},{"series":"Leuning 1995","avg":-54},{"series":"measured","avg":250}]},
   "mark": {"type": "rule", "strokeWidth": 6},
   "encoding": {"x": {"datum": "2007", "bandPosition": 0}, "x2": {"datum": "2012", "bandPosition": 1}, "y": {"field": "avg", "type": "quantitative"}, "color": {"field": "series", "type": "nominal", "legend": null}}}
 ]},
{"spacing": 0,
 "hconcat": [
  {"width": 672, "height": 36, "view": {"fill": null, "stroke": null}, "data": {"values": [{"t": ""}]}, "mark": {"type": "text"}, "encoding": {"text": {"field": "t"}}},
  {"width": 164, "height": 36, "view": {"fill": "white", "stroke": null}, "data": {"values": [{"t": "Nadal 2024"}]}, "mark": {"type": "text", "font": "Liberation Sans", "fontSize": 24, "color": "#000000"}, "encoding": {"text": {"field": "t"}}}
 ]}
]}
]}
],
"config": {
 "locale": {"number": {"decimal": ".", "thousands": "", "grouping": [3], "currency": ["", ""], "minus": "-"}},
 "view": {"stroke": null},
 "axis": {"labelFont": "Lato", "labelFontSize": 22, "labelColor": "#595959", "titleFont": "Lato", "titleFontSize": 22, "titleFontWeight": "normal", "titleColor": "#595959", "domain": false, "ticks": false, "gridColor": "#d9d9d9", "gridWidth": 1.5},
 "legend": {"labelFont": "Lato", "labelFontSize": 22, "labelColor": "#595959", "symbolType": "square", "symbolSize": 180, "symbolStrokeWidth": 0, "labelOffset": 6},
 "title": {"font": "Lato", "fontSize": 30, "fontWeight": "bold", "color": "#595959", "lineHeight": 38}
}
}
